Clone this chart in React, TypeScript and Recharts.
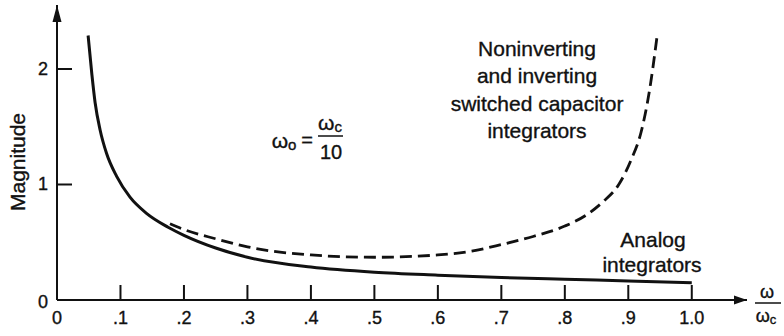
import React from 'react';
import { LineChart, Line, XAxis, YAxis, ReferenceDot } from 'recharts';

// Normalised frequency (omega / omega_c) and magnitude for each integrator type
const analogX = [0.049, 0.055, 0.06, 0.068, 0.078, 0.094, 0.115, 0.141, 0.175, 0.2, 0.25, 0.3, 0.4, 0.5, 0.6, 0.7, 0.8, 0.9, 1.0];
const analogMag = [2.29, 1.95, 1.71, 1.47, 1.27, 1.07, 0.89, 0.75, 0.63, 0.56, 0.45, 0.37, 0.285, 0.24, 0.215, 0.195, 0.18, 0.165, 0.15];

const scX = [0.178, 0.2, 0.25, 0.3, 0.4, 0.5, 0.6, 0.65, 0.7, 0.75, 0.8, 0.835, 0.86, 0.885, 0.905, 0.92, 0.933, 0.945];
const scMag = [0.66, 0.61, 0.53, 0.46, 0.39, 0.37, 0.39, 0.42, 0.48, 0.55, 0.64, 0.74, 0.85, 1.0, 1.22, 1.45, 1.8, 2.27];

const xTicks = [0, 0.1, 0.2, 0.3, 0.4, 0.5, 0.6, 0.7, 0.8, 0.9, 1.0];
const xTickLabels = ['0', '.1', '.2', '.3', '.4', '.5', '.6', '.7', '.8', '.9', '1.0'];
const yTicks = [0, 1, 2];

const X_MAX = 1.087;
const Y_MAX = 2.554;

const analogData = analogX.map((x, i) => ({ x, mag: analogMag[i] }));
const scData = scX.map((x, i) => ({ x, mag: scMag[i] }));

const FONT = '"Liberation Sans", Arial, Helvetica, sans-serif';
const INK = '#111';

// thin outline so the lettering reads a little heavier
const textInk = { fill: INK, stroke: INK, strokeWidth: 0.35 };

function XTick({ x, y, payload }: any) {
  const i = xTicks.indexOf(payload.value);
  return (
    <g>
      {payload.value !== 0 && (
        <line x1={x} x2={x} y1={y} y2={y - 15} stroke={INK} strokeWidth={2} />
      )}
      <text x={x} y={y + 18} textAnchor="middle" dominantBaseline="central" fontSize={18} fontFamily={FONT} {...textInk}>
        {xTickLabels[i]}
      </text>
    </g>
  );
}

function YTick({ x, y, payload }: any) {
  return (
    <g>
      {payload.value !== 0 && (
        <line x1={x} x2={x + 15} y1={y} y2={y} stroke={INK} strokeWidth={2} />
      )}
      <text x={x - 9} y={y + (payload.value === 0 ? 2 : 0)} textAnchor="end" dominantBaseline="central" fontSize={18} fontFamily={FONT} {...textInk}>
        {payload.value}
      </text>
    </g>
  );
}

const RightArrow = ({ cx, cy }: any) => (
  <path d={`M${cx},${cy} L${cx - 13},${cy - 4.5} L${cx - 13},${cy + 4.5} Z`} fill={INK} />
);

const UpArrow = ({ cx, cy }: any) => (
  <path d={`M${cx},${cy} L${cx - 4.5},${cy + 17} L${cx + 4.5},${cy + 17} Z`} fill={INK} />
);

export default function App() {
  return (
    <div style={{ position: 'fixed', left: 0, top: 0, width: 784, height: 336, background: '#fff' }}>
      <LineChart width={784} height={336} margin={{ top: 5, right: 37, bottom: 6, left: 0 }}>
        <XAxis
          type="number"
          dataKey="x"
          domain={[0, X_MAX]}
          ticks={xTicks}
          tick={<XTick />}
          tickSize={0}
          tickMargin={0}
          tickLine={false}
          axisLine={{ stroke: INK, strokeWidth: 2 }}
          height={30}
          allowDataOverflow
        />
        <YAxis
          type="number"
          dataKey="mag"
          domain={[0, Y_MAX]}
          ticks={yTicks}
          tick={<YTick />}
          tickSize={0}
          tickMargin={0}
          tickLine={false}
          axisLine={{ stroke: INK, strokeWidth: 2 }}
          width={57}
          allowDataOverflow
        />
        <Line
          data={analogData}
          dataKey="mag"
          type="monotone"
          stroke={INK}
          strokeWidth={3}
          dot={false}
          isAnimationActive={false}
        />
        <Line
          data={scData}
          dataKey="mag"
          type="monotone"
          stroke={INK}
          strokeWidth={2.8}
          strokeDasharray="12 6"
          dot={false}
          isAnimationActive={false}
        />
        <ReferenceDot x={X_MAX} y={0} r={0} ifOverflow="visible" shape={<RightArrow />} />
        <ReferenceDot x={0} y={Y_MAX} r={0} ifOverflow="visible" shape={<UpArrow />} />
      </LineChart>

      <svg
        width={784}
        height={336}
        style={{ position: 'absolute', left: 0, top: 0, pointerEvents: 'none' }}
        fontFamily={FONT}
        {...textInk}
      >
        <text x={17} y={162} fontSize={21} textAnchor="middle" dominantBaseline="central" transform="rotate(-90 17 162)">
          Magnitude
        </text>

        {/* omega_o = omega_c / 10 */}
        <text x={284} y={140} fontSize={21} textAnchor="middle" dominantBaseline="central">
          ω<tspan fontSize={15} dy={4}>o</tspan>
        </text>
        <text x={307} y={140} fontSize={20} textAnchor="middle" dominantBaseline="central">=</text>
        <text x={330} y={122} fontSize={21} textAnchor="middle" dominantBaseline="central">
          ω<tspan fontSize={15} dy={4}>c</tspan>
        </text>
        <line x1={318} x2={343} y1={136} y2={136} stroke={INK} strokeWidth={1.5} />
        <text x={331} y={152} fontSize={20} textAnchor="middle" dominantBaseline="central">10</text>

        {/* omega / omega_c axis label */}
        <text x={767} y={292} fontSize={18} textAnchor="middle" dominantBaseline="central">ω</text>
        <line x1={755} x2={781} y1={303} y2={303} stroke={INK} strokeWidth={1.5} />
        <text x={766} y={316} fontSize={18} textAnchor="middle" dominantBaseline="central">
          ω<tspan fontSize={13} dy={3}>c</tspan>
        </text>

        {[
          'Noninverting',
          'and inverting',
          'switched capacitor',
          'integrators',
        ].map((line, i) => (
          <text key={line} x={537} y={48 + i * 27.5} fontSize={21} textAnchor="middle" dominantBaseline="central">
            {line}
          </text>
        ))}

        <text x={653} y={239} fontSize={21} textAnchor="middle" dominantBaseline="central">Analog</text>
        <text x={652} y={264} fontSize={21} textAnchor="middle" dominantBaseline="central">integrators</text>
      </svg>
    </div>
  );
}
